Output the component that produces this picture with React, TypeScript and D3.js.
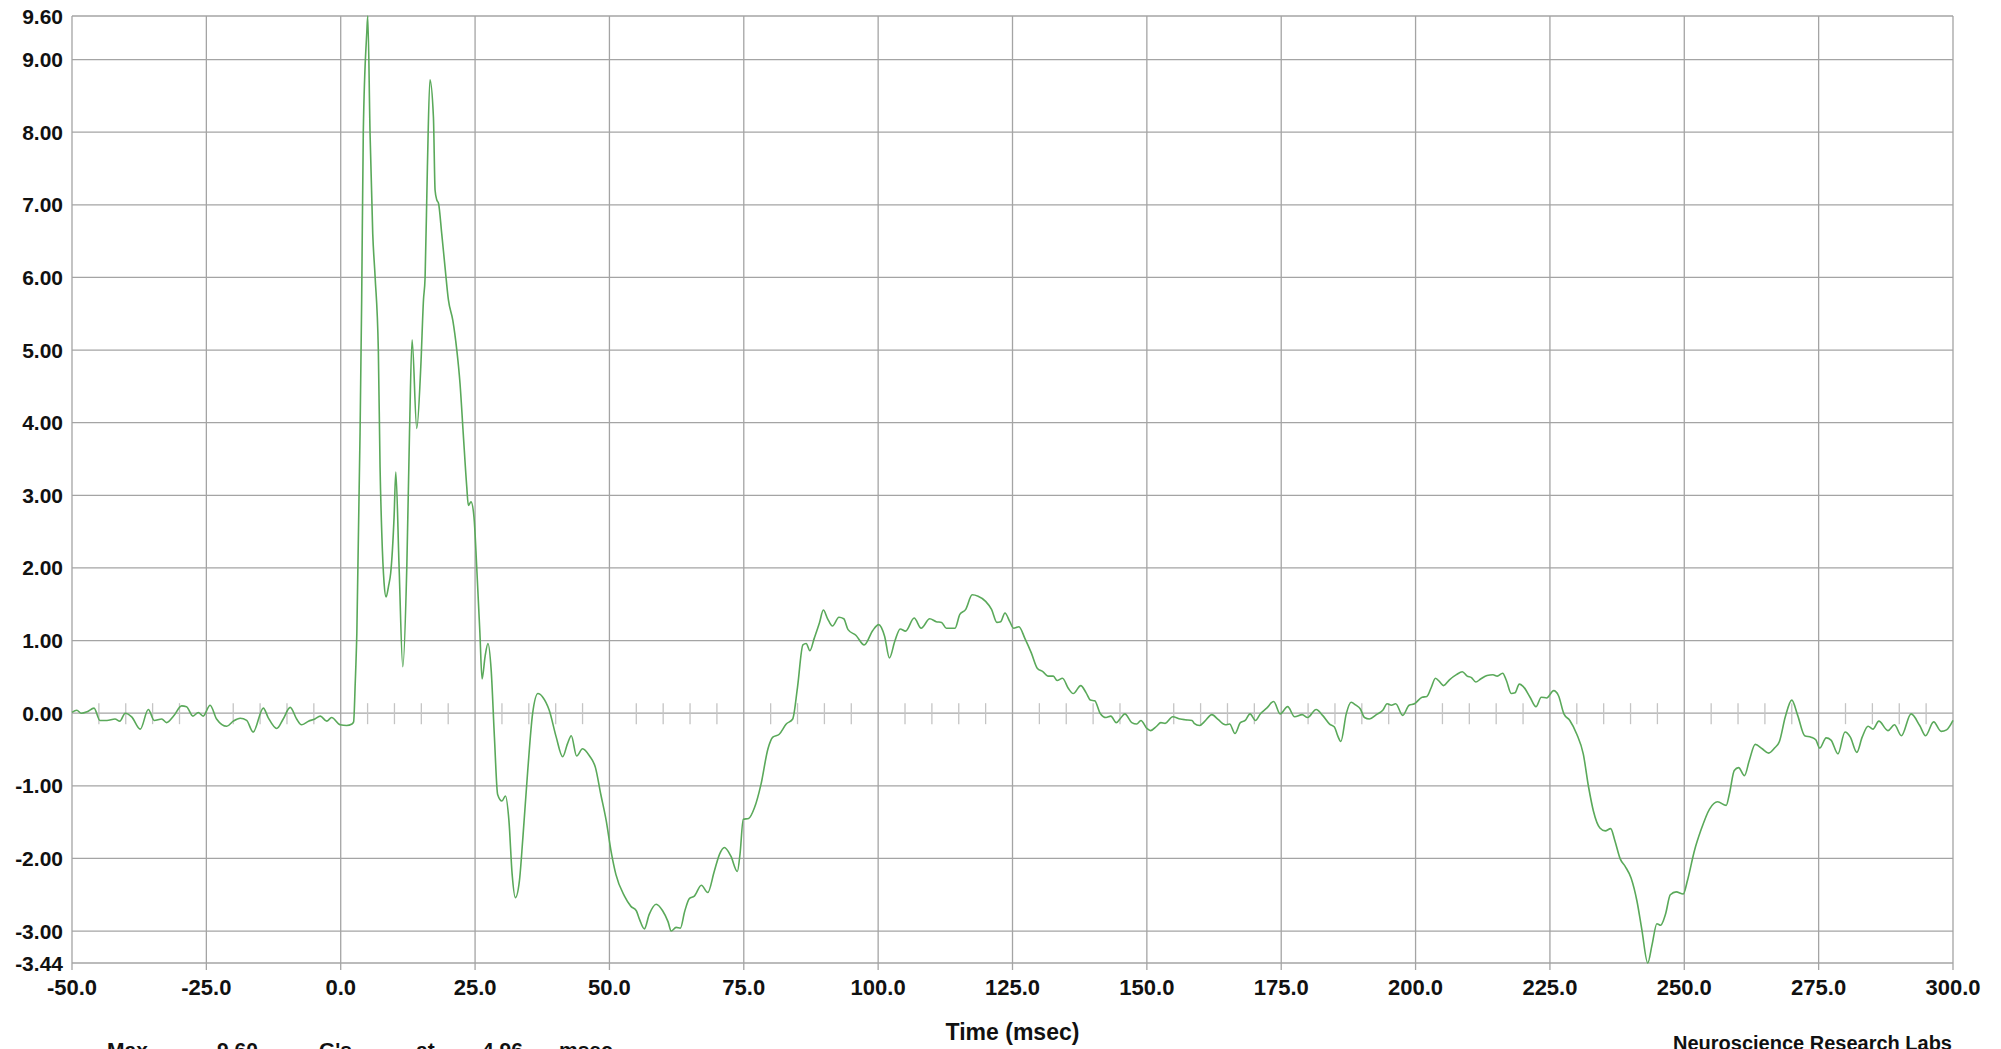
import React from "react";
import * as d3 from "d3";

const timeMs: number[] = [
  -50, -49.1, -48.3, -47.2, -45.9, -44.8, -43.5, -42, -41.1, -40.1, -38.9, -37.3, -35.8, -34.7, -33.3, -32.4,
  -31.1, -29.6, -28.7, -27.5, -26.5, -25.6, -24.3, -23.1, -21.2, -20, -18.7, -17.5, -16.3, -14.4, -13.5, -11.9,
  -10.7, -9.4, -8.2, -7.3, -6, -4.8, -3.8, -2.6, -1.7, -0.1, 1.1, 2.1, 2.4, 2.7, 3.0, 3.6, 3.9, 4.2, 4.85, 5.03,
  5.46, 5.96, 6.4, 7.0, 7.32, 7.64, 8.07, 8.44, 8.9, 9.3, 9.93, 10.25, 10.86, 11.55, 12.3, 12.8, 13.28, 14.15,
  14.9, 15.4, 15.7, 16.13, 16.6, 17.25, 17.56, 17.87, 18.2, 18.8, 19.4, 20.04, 20.86, 21.6, 22.2, 22.8, 23.45,
  23.75, 24.25, 24.8, 25.3, 25.9, 26.3, 26.86, 27.4, 28.0, 28.6, 29.2, 30.0, 30.65, 31.3, 31.9, 32.5, 33.25,
  33.9, 34.8, 35.7, 36.7, 37.6, 38.8, 40.1, 41.3, 42.2, 42.9, 43.9, 45.0, 46.3, 47.4, 48.4, 49.4, 50.3, 51.2,
  52.8, 54.0, 55.0, 55.6, 56.5, 57.4, 58.7, 59.9, 60.9, 61.5, 62.4, 63.2, 64.0, 64.9, 65.8, 67.1, 68.3, 69.5,
  70.5, 71.4, 72.6, 73.8, 74.3, 74.9, 75.9, 77.0, 78.2, 79.5, 80.4, 81.6, 82.9, 84.1, 85.0, 86.0, 86.6, 87.3,
  88.1, 89.1, 89.8, 90.6, 91.5, 92.7, 93.6, 94.4, 95.9, 97.4, 99.0, 100.1, 101.2, 102.1, 103.1, 104.1, 105.1,
  106.7, 108.0, 109.6, 110.8, 111.8, 112.7, 114.3, 115.2, 116.3, 117.5, 118.6, 120.0, 121.1, 122.1, 122.8,
  123.6, 124.5, 125.2, 126.2, 127.3, 128.5, 129.6, 130.7, 131.6, 132.6, 133.3, 134.3, 135.4, 136.3, 137.7,
  138.7, 139.5, 140.3, 141.3, 142.4, 143.3, 144.3, 145.0, 145.9, 147.2, 148.1, 148.9, 150.0, 150.7, 151.8,
  152.6, 153.4, 154.8, 156.2, 157.1, 158.4, 158.8, 159.8, 160.8, 162.1, 163.3, 164.6, 165.4, 166.4, 167.4,
  168.3, 169.2, 170.2, 171.1, 172.3, 173.6, 174.8, 176.2, 177.5, 178.9, 179.9, 181.5, 182.7, 184.0, 184.9,
  185.5, 186.1, 187.1, 188.0, 188.9, 189.7, 190.5, 191.4, 192.7, 193.9, 194.7, 195.5, 196.3, 197.6, 198.8,
  199.8, 201.2, 202.1, 202.9, 203.7, 204.5, 205.2, 206.3, 207.6, 208.7, 209.6, 210.4, 211.2, 212.1, 213.3,
  214.4, 215.2, 216.2, 216.9, 217.8, 218.5, 219.3, 220.0, 221.3, 222.4, 223.4, 224.4, 225.7, 226.6, 227.6,
  228.7, 230.0, 231.2, 232.2, 233.1, 234.3, 235.3, 236.3, 237.1, 238.1, 239.0, 240.1, 241.2, 242.1, 243.2,
  244.0, 244.9, 245.6, 246.5, 247.4, 248.5, 249.8, 250.6, 251.9, 253.1, 254.7, 256.2, 257.8, 258.4, 259.3,
  260.1, 261.2, 262.1, 263.2, 264.5, 265.7, 266.8, 267.7, 268.8, 270.0, 271.1, 272.4, 273.6, 274.5, 275.2,
  276.4, 277.3, 278.6, 279.9, 280.9, 282.1, 283.1, 284.2, 285.1, 286.2, 287.9, 289.1, 290.4, 292.2, 293.8,
  294.9, 296.4, 297.8, 298.8, 300,
];

const accelG: number[] = [
  0.01, 0.04, 0.0, 0.02, 0.07, -0.1, -0.1, -0.08, -0.11, 0.0, -0.05, -0.22, 0.05, -0.1, -0.08, -0.13,
  -0.04, 0.1, 0.09, -0.04, 0.01, -0.04, 0.11, -0.08, -0.18, -0.11, -0.07, -0.1, -0.26, 0.07, -0.06, -0.21,
  -0.08, 0.08, -0.08, -0.16, -0.11, -0.08, -0.04, -0.11, -0.06, -0.16, -0.17, -0.15, -0.12, 0.41, 1.1, 3.86, 5.69, 7.99, 9.37, 9.6,
  7.98, 6.6, 6.01, 5.0, 3.39, 2.48, 1.79, 1.6, 1.75, 1.93, 2.7, 3.32, 2.02, 0.64, 2.02, 3.86, 5.14, 3.92,
  4.77, 5.69, 6.0, 7.52, 8.72, 8.21, 7.2, 7.07, 7.02, 6.6, 6.15, 5.69, 5.41, 5.0, 4.54, 3.85, 3.12,
  2.86, 2.91, 2.7, 2.02, 1.1, 0.47, 0.78, 0.96, 0.59, -0.33, -1.12, -1.21, -1.14, -1.48, -2.22, -2.54, -2.31,
  -1.71, -0.79, -0.01, 0.27, 0.22, 0.04, -0.33, -0.6, -0.42, -0.31, -0.59, -0.49, -0.59, -0.75, -1.12, -1.48, -1.9, -2.22,
  -2.52, -2.66, -2.72, -2.84, -2.97, -2.77, -2.63, -2.72, -2.87, -3.0, -2.95, -2.96, -2.73, -2.55, -2.52, -2.37, -2.47, -2.18,
  -1.94, -1.85, -1.97, -2.18, -1.94, -1.46, -1.45, -1.3, -0.98, -0.49, -0.33, -0.29, -0.15, -0.08, 0.36, 0.94, 0.96, 0.86,
  1.03, 1.25, 1.42, 1.3, 1.2, 1.32, 1.3, 1.15, 1.07, 0.94, 1.14, 1.22, 1.06, 0.76, 0.99, 1.16, 1.13,
  1.31, 1.17, 1.3, 1.26, 1.25, 1.17, 1.17, 1.36, 1.43, 1.63, 1.61, 1.54, 1.43, 1.25, 1.26,
  1.38, 1.26, 1.17, 1.19, 1.03, 0.83, 0.62, 0.57, 0.51, 0.51, 0.45, 0.48, 0.34, 0.27, 0.38,
  0.28, 0.18, 0.17, 0.0, -0.06, -0.04, -0.13, -0.08, -0.01, -0.13, -0.15, -0.1, -0.21, -0.24, -0.18,
  -0.13, -0.14, -0.05, -0.08, -0.09, -0.1, -0.14, -0.17, -0.11, -0.02, -0.09, -0.16, -0.15, -0.28, -0.13,
  -0.1, -0.01, -0.1, -0.01, 0.07, 0.16, -0.01, 0.09, -0.05, -0.02, -0.06, 0.05, -0.03, -0.15, -0.19,
  -0.31, -0.39, -0.01, 0.15, 0.11, 0.06, -0.06, -0.08, -0.02, 0.04, 0.13, 0.11, 0.13, -0.03, 0.11,
  0.13, 0.22, 0.23, 0.35, 0.48, 0.43, 0.38, 0.46, 0.53, 0.57, 0.51, 0.49, 0.43, 0.47, 0.52,
  0.53, 0.51, 0.55, 0.45, 0.27, 0.28, 0.4, 0.37, 0.22, 0.09, 0.22, 0.21, 0.31, 0.24, -0.01,
  -0.1, -0.29, -0.56, -1.02, -1.35, -1.58, -1.62, -1.59, -1.76, -2.01, -2.11, -2.27, -2.59, -2.98, -3.44,
  -3.19, -2.9, -2.92, -2.77, -2.5, -2.46, -2.49, -2.3, -1.89, -1.61, -1.32, -1.22, -1.27, -1.11, -0.79,
  -0.75, -0.86, -0.65, -0.43, -0.49, -0.55, -0.48, -0.39, -0.05, 0.18, -0.03, -0.31, -0.33, -0.37, -0.48,
  -0.34, -0.37, -0.56, -0.26, -0.33, -0.54, -0.33, -0.18, -0.22, -0.11, -0.24, -0.16, -0.31, -0.01, -0.17,
  -0.31, -0.12, -0.25, -0.23, -0.1,
];

const yTickValues: number[] = [9.6, 9, 8, 7, 6, 5, 4, 3, 2, 1, 0, -1, -2, -3, -3.44];
const xTickValues: number[] = [-50, -25, 0, 25, 50, 75, 100, 125, 150, 175, 200, 225, 250, 275, 300];
const minorTickValues: number[] = d3.range(-45, 300, 5).filter((v) => v % 25 !== 0);

const xAxisTitle = "Time (msec)";
const creditText = "Neuroscience Research Labs";
const summaryWords: { text: string; at: number }[] = [
  { text: "Max", at: 107 },
  { text: "9.60", at: 217 },
  { text: "G's", at: 319 },
  { text: "at", at: 416 },
  { text: "4.96", at: 482 },
  { text: "msec", at: 559 },
];

const W = 2001;
const H = 1049;
const FONT = "'Liberation Sans', Arial, sans-serif";
const GRID = "#a4a4a4";

export default function App() {
  const x = d3.scaleLinear().domain([-50, 300]).range([72, 1953]);
  const y = d3.scaleLinear().domain([-3.44, 9.6]).range([963, 16]);
  const pts = timeMs.map((t, i) => [t, accelG[i]] as [number, number]);
  const line = d3
    .line<[number, number]>()
    .x((d) => x(d[0]))
    .y((d) => y(d[1]))
    .curve(d3.curveMonotoneX);

  const yTop = y(9.6);
  const yBot = y(-3.44);
  const y0 = y(0);

  return (
    <svg
      width={W}
      height={H}
      style={{ position: "fixed", left: 0, top: 0, background: "#fff" }}
      fontFamily={FONT}
    >
      <rect x={0} y={0} width={W} height={H} fill="#fff" />
      {/* horizontal grid */}
      {yTickValues.map((v) => (
        <line key={"h" + v} x1={x(-50)} x2={x(300)} y1={y(v)} y2={y(v)} stroke={GRID} strokeWidth={1.3} />
      ))}
      {/* vertical grid */}
      {xTickValues.map((v) => (
        <line key={"v" + v} x1={x(v)} x2={x(v)} y1={yTop} y2={yBot + 7} stroke={GRID} strokeWidth={1.3} />
      ))}
      {/* minor ticks on zero line */}
      {minorTickValues.map((v) => (
        <line key={"m" + v} x1={x(v)} x2={x(v)} y1={y0 - 10} y2={y0 + 11} stroke="#c4c4c4" strokeWidth={1.3} />
      ))}
      {/* y labels */}
      {yTickValues.map((v) => (
        <text
          key={"yl" + v}
          x={63}
          y={y(v)}
          dy="0.36em"
          textAnchor="end"
          fontSize={21}
          fontWeight="bold"
          fill="#111"
        >
          {v.toFixed(2)}
        </text>
      ))}
      {/* x labels */}
      {xTickValues.map((v) => (
        <text key={"xl" + v} x={x(v)} y={995} textAnchor="middle" fontSize={22} fontWeight="bold" fill="#111">
          {v.toFixed(1)}
        </text>
      ))}
      {/* data line */}
      <path d={line(pts) || ""} fill="none" stroke="#5aa95a" strokeWidth={1.6} strokeLinejoin="round" />
      {/* titles */}
      <text x={(x(-50) + x(300)) / 2} y={1040} textAnchor="middle" fontSize={23} fontWeight="bold" fill="#111">
        {xAxisTitle}
      </text>
      <text x={1952} y={1050} textAnchor="end" fontSize={20} fontWeight="bold" fill="#111">
        {creditText}
      </text>
      {summaryWords.map((w) => (
        <text key={w.text} x={w.at} y={1057} fontSize={21} fontWeight="bold" fill="#111">
          {w.text}
        </text>
      ))}
    </svg>
  );
}
